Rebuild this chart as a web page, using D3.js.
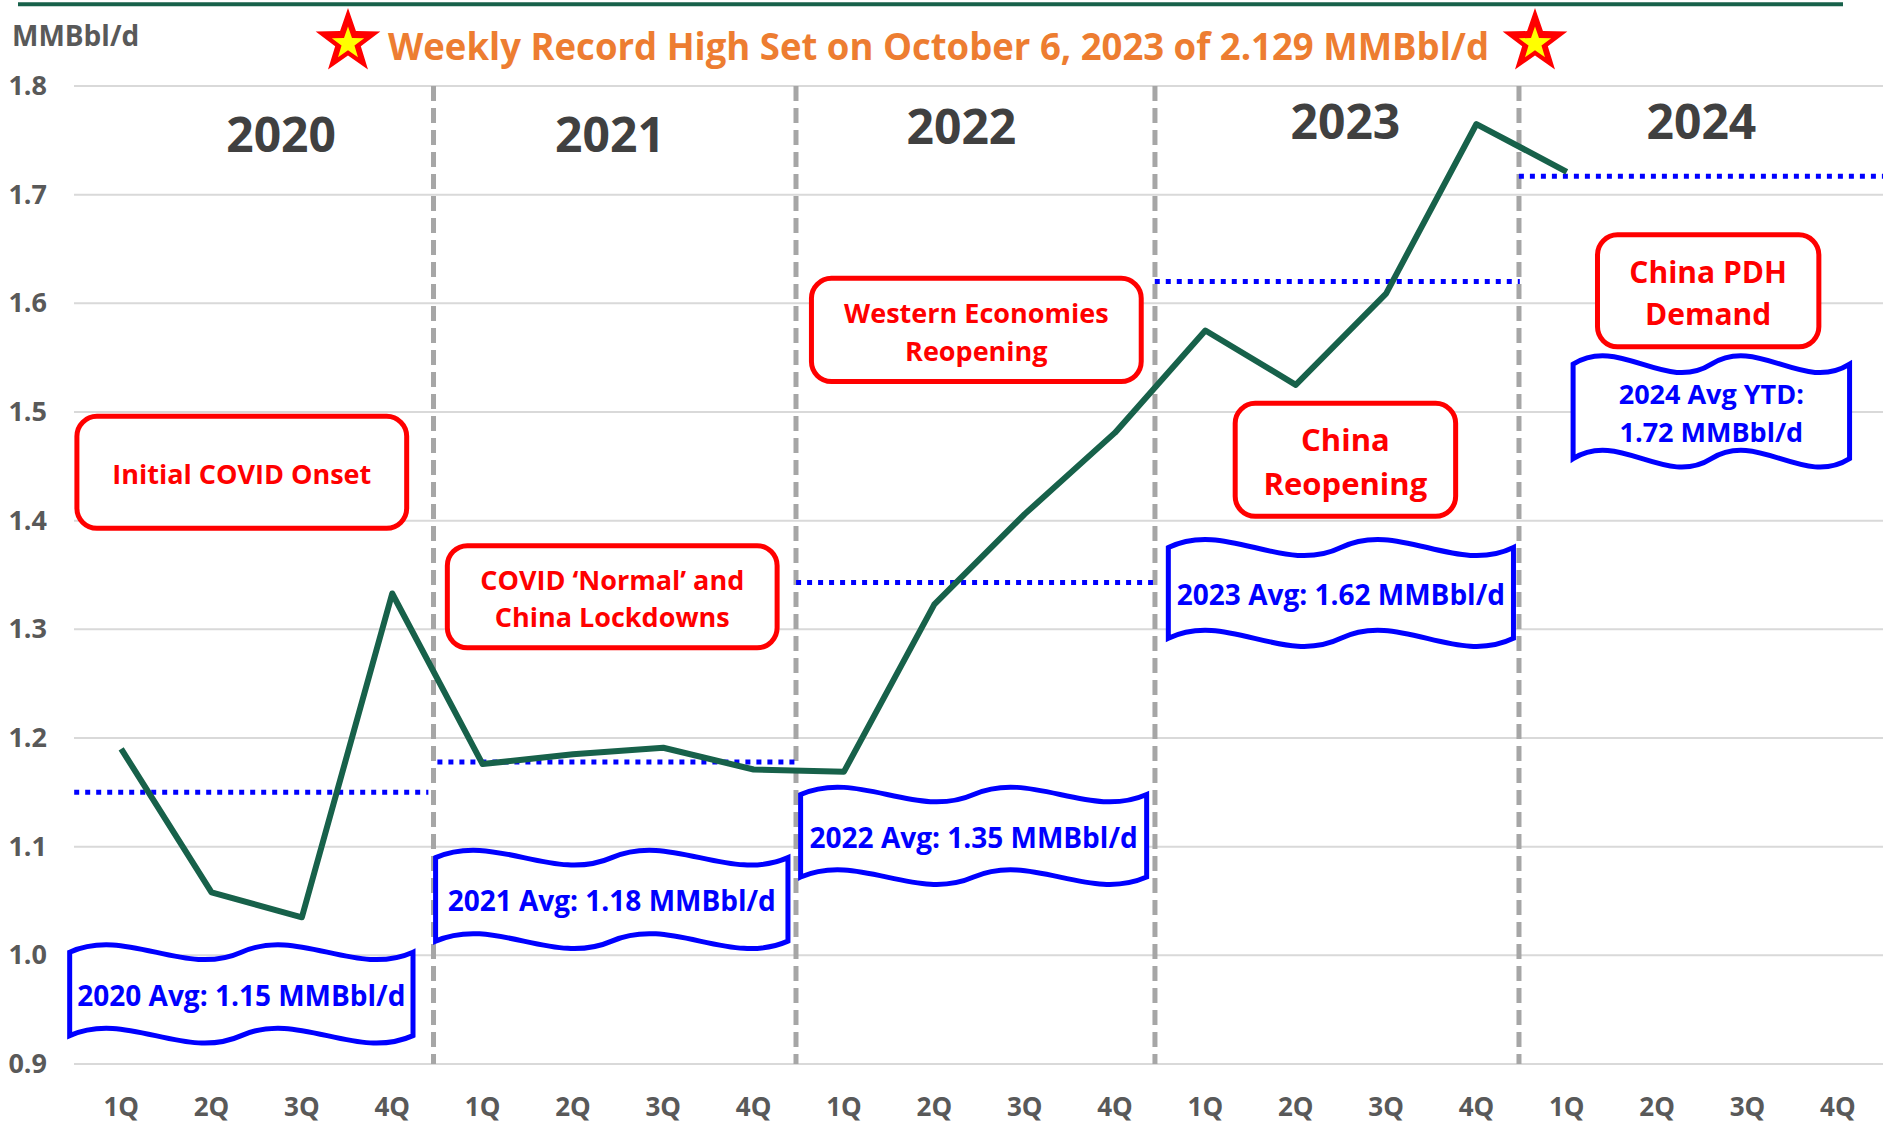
<!DOCTYPE html>
<html>
<head>
<meta charset="utf-8">
<script src="https://cdn.jsdelivr.net/npm/d3@7"></script>
<style>
  html, body { margin: 0; padding: 0; background: #fff; }
  svg { display: block; font-family: 'Open Sans', sans-serif; font-weight: 700; }
</style>
</head>
<body>
<script>
const years = ['2020', '2021', '2022', '2023', '2024']
const quarters = ['1Q', '2Q', '3Q', '4Q']
const categories = years.flatMap(y => quarters.map(q => q + ' ' + y))
// quarterly demand, MMBbl/d
const demand = [1.190, 1.058, 1.035, 1.333, 1.176, 1.185, 1.191, 1.171, 1.169, 1.323, 1.406, 1.481, 1.575, 1.525, 1.609, 1.765, 1.721]
const yearAvg = [1.150, 1.178, 1.343, 1.620, 1.717]
const yTicks = [0.9, 1.0, 1.1, 1.2, 1.3, 1.4, 1.5, 1.6, 1.7, 1.8]
const unitLabel = 'MMBbl/d'
const title = 'Weekly Record High Set on October 6, 2023 of 2.129 MMBbl/d'
const events = [
	['Initial COVID Onset'],
	['COVID ‘Normal’ and', 'China Lockdowns'],
	['Western Economies', 'Reopening'],
	['China', 'Reopening'],
	['China PDH', 'Demand']
]
const avgNotes = [
	['2020 Avg: 1.15 MMBbl/d'],
	['2021 Avg: 1.18 MMBbl/d'],
	['2022 Avg: 1.35 MMBbl/d'],
	['2023 Avg: 1.62 MMBbl/d'],
	['2024 Avg YTD:', '1.72 MMBbl/d']
]

// call-out placement, in quarter-index / MMBbl/d units
const yearLabelAt = [[1.77, 1.739], [5.41, 1.739], [9.30, 1.747], [13.55, 1.751], [17.49, 1.751]]
const dividers = [3.457, 7.469, 11.442, 15.471]
const avgSpan = [[-0.52, 3.40], [3.50, 7.49], [7.47, 11.42], [11.44, 15.48], [15.47, 19.5]]
const eventBox = [[-0.49, 3.16, 1.496, 1.393], [3.61, 7.26, 1.377, 1.283], [7.64, 11.29, 1.623, 1.528], [12.33, 14.77, 1.508, 1.404], [16.34, 18.79, 1.663, 1.560]]
const eventSize = [27, 27, 27, 31, 30]
const avgBox = [[-0.57, 3.23, 1.010, 0.919], [3.48, 7.38, 1.097, 1.006], [7.52, 11.35, 1.155, 1.065], [11.59, 15.41, 1.383, 1.284], [16.07, 19.13, 1.552, 1.449]]
const avgSize = [28, 28, 28, 28, 27]

const width = 1883
const height = 1125
const green = '#17614a'
const grey = '#595959'

const svg = d3.select('body')
	.append('svg')
	.attr('width', width)
	.attr('height', height)

// Scales
const x = d3.scaleBand()
	.domain(categories)
	.range([76, 1883])

const xi = d3.scaleLinear()
	.domain([0, categories.length - 1])
	.range([x(categories[0]) + x.bandwidth() / 2, x(categories[categories.length - 1]) + x.bandwidth() / 2])

const y = d3.scaleLinear()
	.domain([0.9, 1.8])
	.range([1064, 86])

// top rule
svg.append('line')
	.attr('x1', 18).attr('x2', 1843)
	.attr('y1', 4.3).attr('y2', 4.3)
	.attr('stroke', green)
	.attr('stroke-width', 4)

// Gridlines
svg.append('g')
	.selectAll('line')
	.data(yTicks)
	.enter()
	.append('line')
	.attr('x1', 74).attr('x2', width)
	.attr('y1', d => y(d)).attr('y2', d => y(d))
	.attr('stroke', '#d9d9d9')
	.attr('stroke-width', 2)

// Y-Axis
const yAxis = d3.axisLeft(y)
	.tickValues(yTicks)
	.tickFormat(d3.format('.1f'))
	.tickSize(0)
	.tickPadding(0)

svg.append('g')
	.attr('transform', 'translate(47,0)')
	.call(yAxis)
	.call(g => g.select('.domain').remove())
	.selectAll('text')
	.attr('font-family', "'Open Sans', sans-serif")
	.attr('font-size', 27)
	.attr('font-weight', 700)
	.attr('fill', grey)

// X-Axis
const xAxis = d3.axisBottom(x)
	.tickFormat(d => d.split(' ')[0])
	.tickSize(0)
	.tickPadding(34)

svg.append('g')
	.attr('transform', `translate(0,${y(0.9)})`)
	.call(xAxis)
	.call(g => g.select('.domain').remove())
	.selectAll('text')
	.attr('font-family', "'Open Sans', sans-serif")
	.attr('font-size', 26)
	.attr('font-weight', 700)
	.attr('fill', grey)

// year dividers
svg.append('g')
	.selectAll('line')
	.data(dividers)
	.enter()
	.append('line')
	.attr('x1', d => xi(d)).attr('x2', d => xi(d))
	.attr('y1', y(1.8)).attr('y2', y(0.9))
	.attr('stroke', '#a6a6a6')
	.attr('stroke-width', 5)
	.attr('stroke-dasharray', '15,7')

// yearly averages
svg.append('g')
	.selectAll('line')
	.data(yearAvg)
	.enter()
	.append('line')
	.attr('x1', (d, i) => xi(avgSpan[i][0]))
	.attr('x2', (d, i) => xi(avgSpan[i][1]))
	.attr('y1', d => y(d)).attr('y2', d => y(d))
	.attr('stroke', '#0000ff')
	.attr('stroke-width', 5)
	.attr('stroke-dasharray', '5,6')

// demand line
const line = d3.line()
	.x((d, i) => x(categories[i]) + x.bandwidth() / 2)
	.y(d => y(d))

svg.append('path')
	.datum(demand)
	.attr('d', line)
	.attr('fill', 'none')
	.attr('stroke', green)
	.attr('stroke-width', 6)
	.attr('stroke-linejoin', 'round')

// year labels
svg.append('g')
	.selectAll('text')
	.data(years)
	.enter()
	.append('text')
	.attr('x', (d, i) => xi(yearLabelAt[i][0]))
	.attr('y', (d, i) => y(yearLabelAt[i][1]))
	.attr('text-anchor', 'middle')
	.attr('font-size', 48)
	.attr('fill', '#404040')
	.text(d => d)

const addLines = (g, lines, cx, cy, fs, color) => {
	const lh = fs * 1.4
	lines.forEach((t, i) => {
		g.append('text')
			.attr('x', cx)
			.attr('y', cy + (i - (lines.length - 1) / 2) * lh)
			.attr('dy', '0.36em')
			.attr('text-anchor', 'middle')
			.attr('font-size', fs)
			.attr('fill', color)
			.text(t)
	})
}

// event call-outs
events.forEach((lines, i) => {
	const [a, b, top, bottom] = eventBox[i]
	const x0 = xi(a), x1 = xi(b), y0 = y(top), y1 = y(bottom)
	const g = svg.append('g')
	g.append('rect')
		.attr('x', x0).attr('y', y0)
		.attr('width', x1 - x0).attr('height', y1 - y0)
		.attr('rx', 20)
		.attr('fill', '#fff')
		.attr('stroke', '#ff0000')
		.attr('stroke-width', 5)
	addLines(g, lines, (x0 + x1) / 2, (y0 + y1) / 2 + 2, eventSize[i], '#ff0000')
})

// wavy average call-outs
const wave = (x0, y0, w, h, k) => {
	const a = h * k, d = a * 10 / 3
	const t = y0 + a, b = y0 + h - a
	const p = d3.path()
	p.moveTo(x0, t)
	p.bezierCurveTo(x0 + w / 6, t - d, x0 + w / 3, t + d, x0 + w / 2, t)
	p.bezierCurveTo(x0 + 2 * w / 3, t - d, x0 + 5 * w / 6, t + d, x0 + w, t)
	p.lineTo(x0 + w, b)
	p.bezierCurveTo(x0 + 5 * w / 6, b + d, x0 + 2 * w / 3, b - d, x0 + w / 2, b)
	p.bezierCurveTo(x0 + w / 3, b + d, x0 + w / 6, b - d, x0, b)
	p.closePath()
	return p.toString()
}

avgNotes.forEach((lines, i) => {
	const [a, b, top, bottom] = avgBox[i]
	const x0 = xi(a), x1 = xi(b), y0 = y(top), y1 = y(bottom)
	const g = svg.append('g')
	g.append('path')
		.attr('d', wave(x0, y0, x1 - x0, y1 - y0, 0.078))
		.attr('fill', '#fff')
		.attr('stroke', '#0000ff')
		.attr('stroke-width', 5)
	addLines(g, lines, (x0 + x1) / 2, (y0 + y1) / 2 + 2, avgSize[i], '#0000ff')
})

// unit label
svg.append('text')
	.attr('x', 12)
	.attr('y', 46)
	.attr('font-size', 28)
	.attr('fill', grey)
	.text(unitLabel)

// title with stars
const titleText = svg.append('text')
	.attr('x', 938.5)
	.attr('y', 60)
	.attr('text-anchor', 'middle')
	.attr('font-size', 37)
	.attr('fill', '#ed7d31')
	.text(title)

const tw = titleText.node().getComputedTextLength()
if (tw > 1101) titleText.attr('textLength', 1101).attr('lengthAdjust', 'spacingAndGlyphs')
const tHalf = Math.min(tw, 1101) / 2

const star = (cx, cy, R, r) => {
	const pts = d3.range(10).map(k => {
		const ang = -Math.PI / 2 + k * Math.PI / 5
		const rad = k % 2 ? r : R
		return [cx + rad * Math.cos(ang), cy + rad * Math.sin(ang)]
	})
	return 'M' + pts.join('L') + 'Z'
}

;[938.5 - tHalf - 40, 938.5 + tHalf + 46].forEach(cx => {
	svg.append('path').attr('d', star(cx, 42, 34, 13.5)).attr('fill', '#ff0000')
	svg.append('path').attr('d', star(cx, 43.5, 17, 6.8)).attr('fill', '#ffff00')
})
</script>
</body>
</html>
